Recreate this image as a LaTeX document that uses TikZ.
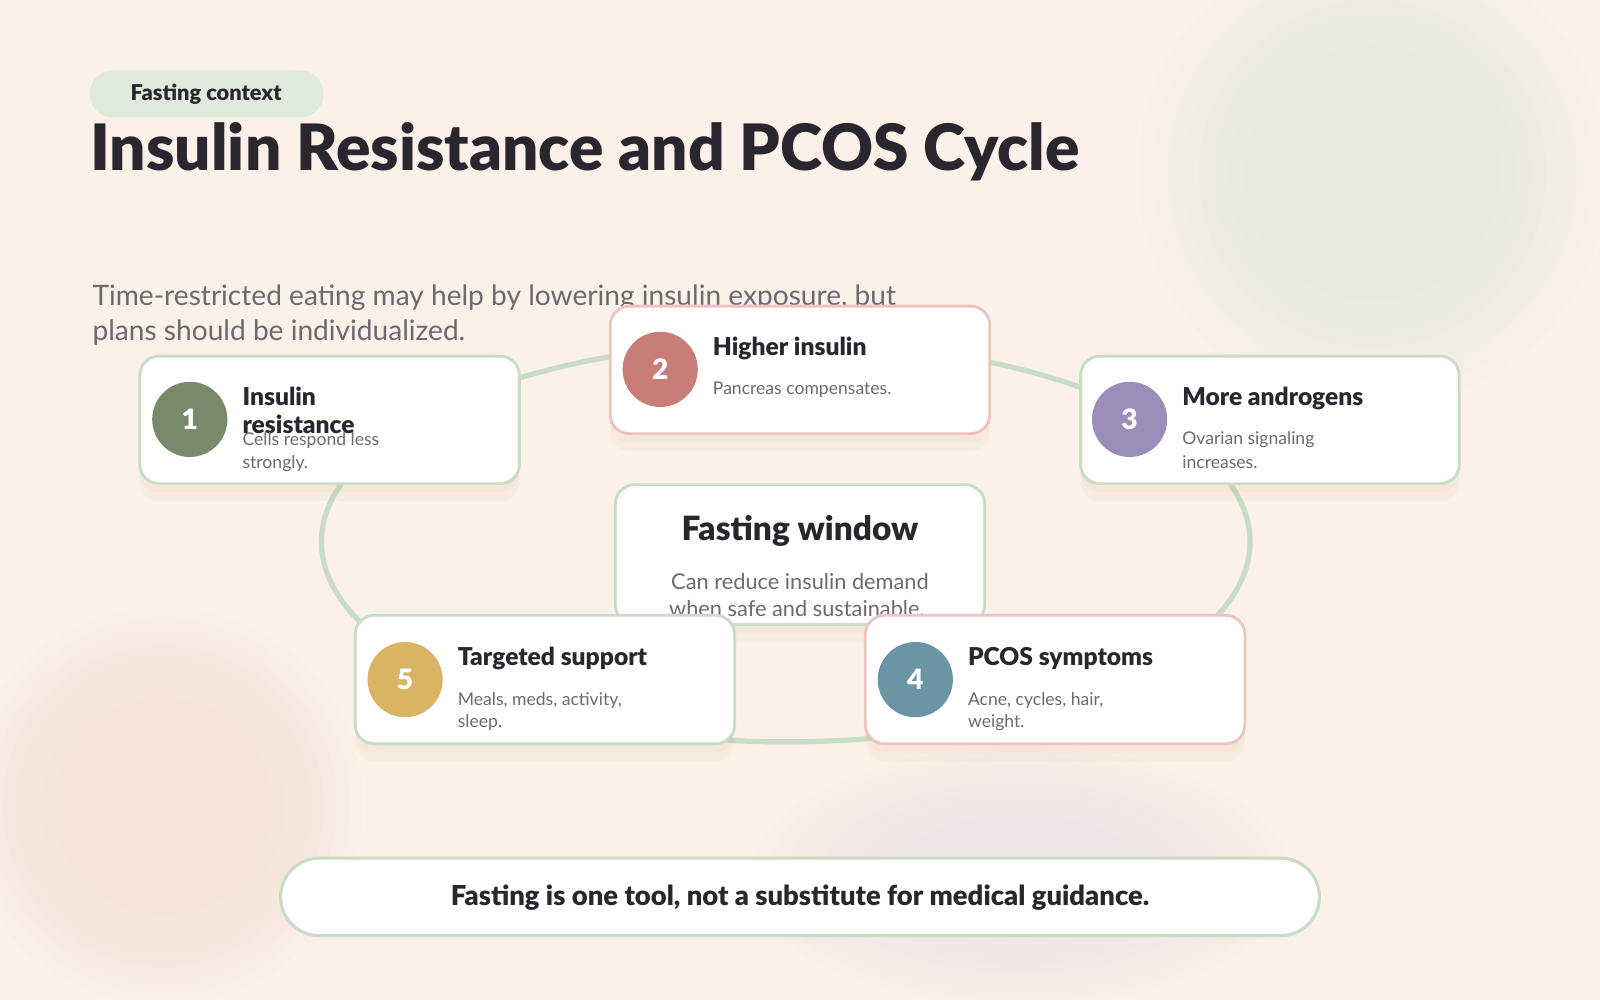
\documentclass[tikz,border=0pt]{standalone}
\usepackage{fontspec}
\setmainfont{Lato}[BoldFont={Lato Black}]
\definecolor{bg}{HTML}{FBF1E8}
\definecolor{ink}{HTML}{2A2630}
\definecolor{sub}{HTML}{6E6870}
\definecolor{gline}{HTML}{C9DCC6}
\definecolor{pline}{HTML}{EEC4C2}
\definecolor{gblob}{HTML}{E3EADB}
\definecolor{pblob}{HTML}{F6E0D6}
\definecolor{lblob}{HTML}{EFE3E6}
\definecolor{cA}{HTML}{788A6A}
\definecolor{cB}{HTML}{C97D78}
\definecolor{cC}{HTML}{9B8DBA}
\definecolor{cD}{HTML}{6A95A3}
\definecolor{cE}{HTML}{D8B464}
\begin{document}
\begin{tikzpicture}[x=0.010204cm,y=-0.010204cm,
  card/.style={draw=#1,line width=0.8pt,fill=white,rounded corners=5.5pt,
    preaction={fill=brown,opacity=0.04,transform canvas={yshift=-5pt}},
    preaction={fill=brown,opacity=0.04,transform canvas={yshift=-2.5pt}}},
  num/.style={circle,fill=#1,minimum size=21.4pt,inner sep=0pt,text=white,font=\bfseries\fontsize{8}{8}\selectfont},
  ctitle/.style={anchor=base west,inner sep=0pt,text=ink,font=\bfseries\fontsize{7}{8}\selectfont},
  csub/.style={anchor=base west,inner sep=0pt,text=sub,font=\fontsize{5}{6}\selectfont}]
\useasboundingbox (0,0) rectangle (1568,980);
\fill[bg] (0,0) rectangle (1568,980);
\foreach \r in {230,215,...,110}{
  \fill[gblob,opacity=0.12] (1345,170) circle (\r);
  \fill[pblob,opacity=0.12] (160,790) circle (\r*0.85);
  \fill[lblob,opacity=0.12] (1000,860) ellipse (\r*1.15 and \r*0.55);
}
% header
\fill[gline!60!white,rounded corners=6.5pt] (88,69) rectangle (317,115);
\node[text=ink,font=\bfseries\fontsize{6.2}{7}\selectfont] (pt) at (202,92) {Fasting context};
\node[anchor=base west,inner sep=0pt,text=ink,font=\bfseries\fontsize{18.2}{20}\selectfont] (title) at (88,167) {Insulin Resistance and PCOS Cycle};
\node[anchor=base west,inner sep=0pt,text=sub,font=\fontsize{8}{10}\selectfont] (s1) at (90,299) {Time-restricted eating may help by lowering insulin exposure, but};
\node[anchor=base west,inner sep=0pt,text=sub,font=\fontsize{8}{10}\selectfont] (s2) at (90,334) {plans should be individualized.};
% ring
\draw[gline,line width=1.5pt] (770,531) ellipse (455 and 196);
% center card
\draw[card=gline] (603,475) rectangle (965,612);
\node[text=ink,font=\bfseries\fontsize{9.5}{10}\selectfont] (ct) at (784,520) {Fasting window};
\node[anchor=base,inner sep=0pt,text=sub,font=\fontsize{6.2}{7}\selectfont] (cs1) at (784,578) {Can reduce insulin demand};
\node[anchor=base,inner sep=0pt,text=sub,font=\fontsize{6.2}{7}\selectfont] (cs2) at (781,604) {when safe and sustainable.};
% cards
\draw[card=gline] (137,349) rectangle (509,474);
\node[num=cA] (n1) at (186,411) {1};
\node[ctitle] at (237,397) {Insulin};
\node[ctitle] at (237,425) {resistance};
\node[csub] at (237,437) {Cells respond less};
\node[csub] at (237,459) {strongly.};
\draw[card=pline] (598,300) rectangle (970,425);
\node[num=cB] (n2) at (647,362) {2};
\node[ctitle] at (698,348) {Higher insulin};
\node[csub] at (698,387) {Pancreas compensates.};
\draw[card=gline] (1059,349) rectangle (1430,474);
\node[num=cC] (n3) at (1107,411) {3};
\node[ctitle] at (1158,397) {More androgens};
\node[csub] at (1158,436) {Ovarian signaling};
\node[csub] at (1158,459) {increases.};
\draw[card=pline] (848,603) rectangle (1220,729);
\node[num=cD] (n4) at (897,666) {4};
\node[ctitle] at (948,652) {PCOS symptoms};
\node[csub] at (948,691) {Acne, cycles, hair,};
\node[csub] at (948,713) {weight.};
\draw[card=gline] (348,603) rectangle (720,729);
\node[num=cE] (n5) at (397,666) {5};
\node[ctitle] at (448,652) {Targeted support};
\node[csub] at (448,691) {Meals, meds, activity,};
\node[csub] at (448,713) {sleep.};
% bottom
\draw[draw=gline,line width=0.9pt,fill=white,rounded corners=11pt] (275,841) rectangle (1293,917);
\node[text=ink,font=\bfseries\fontsize{7.8}{8}\selectfont] (bt) at (784,880) {Fasting is one tool, not a substitute for medical guidance.};
\end{tikzpicture}
\end{document}
